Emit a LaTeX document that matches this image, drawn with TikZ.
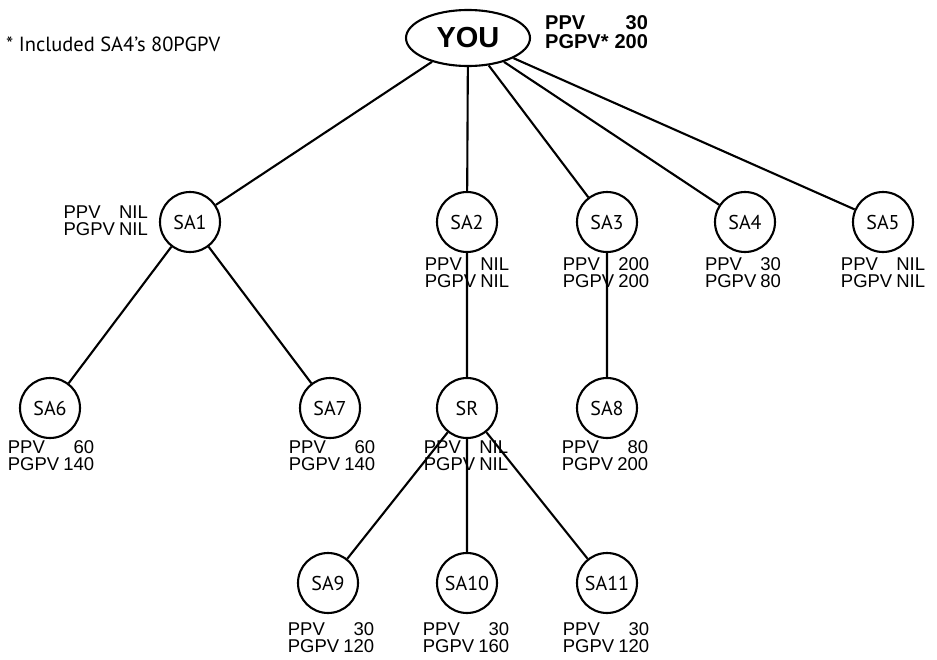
\documentclass[tikz,border=0pt]{standalone}
\usepackage{fontspec}
\setmainfont{Liberation Sans}
\newfontfamily\namefont{PT Sans}
\usepackage{tikz}
\usetikzlibrary{shapes.geometric}

\newcommand{\pv}[2]{\begin{tabular}{@{}l@{\hspace{4pt}}r@{}}PPV & #1\\ PGPV & #2\end{tabular}}

\begin{document}
\begin{tikzpicture}[x=1pt, y=-1pt,
    member/.style={draw, circle, line width=2.1pt, minimum size=60pt, inner sep=0pt,
                   font=\namefont\fontsize{20}{20}\selectfont},
    points/.style={inner sep=0pt, font=\fontsize{18.5}{14.5}\selectfont},
    link/.style={line width=2.1pt}]
    \useasboundingbox (0, 0) rectangle (937, 659);

    \node[draw, ellipse, line width=2.1pt, minimum width=124pt, minimum height=56pt,
          inner sep=0pt, font=\bfseries\fontsize{29}{29}\selectfont] (you) at (468, 38) {YOU};

    \node[member] (sa1)  at (190, 222) {SA1};
    \node[member] (sa2)  at (467, 222) {SA2};
    \node[member] (sa3)  at (607, 222) {SA3};
    \node[member] (sa4)  at (745, 222) {SA4};
    \node[member] (sa5)  at (883, 222) {SA5};
    \node[member] (sa6)  at (50, 408)  {SA6};
    \node[member] (sa7)  at (330, 408) {SA7};
    \node[member] (sr)   at (467, 408) {SR};
    \node[member] (sa8)  at (607, 408) {SA8};
    \node[member] (sa9)  at (328, 583) {SA9};
    \node[member] (sa10) at (467, 583) {SA10};
    \node[member] (sa11) at (607, 583) {SA11};

    \draw[link] (you) -- (sa1)
                (you) -- (sa2)
                (you) -- (sa3)
                (you) -- (sa4)
                (you) -- (sa5)
                (sa1) -- (sa6)
                (sa1) -- (sa7)
                (sa2) -- (sr)
                (sa3) -- (sa8)
                (sr) -- (sa9)
                (sr) -- (sa10)
                (sr) -- (sa11);

    \node[points, anchor=east] (p1) at (148, 223) {\pv{NIL}{NIL}};
    \node[points] (p2)  at (467, 275) {\pv{NIL}{NIL}};
    \node[points] (p3)  at (606, 275) {\pv{200}{200}};
    \node[points] (p4)  at (743, 275) {\pv{30}{80}};
    \node[points] (p5)  at (883, 275) {\pv{NIL}{NIL}};
    \node[points] (p6)  at (51, 458)  {\pv{60}{140}};
    \node[points] (p7)  at (332, 458) {\pv{60}{140}};
    \node[points] (pr)  at (466, 458) {\pv{NIL}{NIL}};
    \node[points] (p8)  at (605, 458) {\pv{80}{200}};
    \node[points] (p9)  at (331, 640) {\pv{30}{120}};
    \node[points] (p10) at (466, 640) {\pv{30}{160}};
    \node[points] (p11) at (606, 640) {\pv{30}{120}};

    \node[points, anchor=west, font=\bfseries\fontsize{20}{17}\selectfont] (pyou) at (545, 35)
        {\begin{tabular}{@{}l@{\hspace{6pt}}r@{}}PPV & 30\\ PGPV* & 200\end{tabular}};
    \node[anchor=west, inner sep=0pt, font=\namefont\fontsize{20.5}{20}\selectfont] (note) at (6, 44)
        {* Included SA4’s 80PGPV};
\end{tikzpicture}
\end{document}
